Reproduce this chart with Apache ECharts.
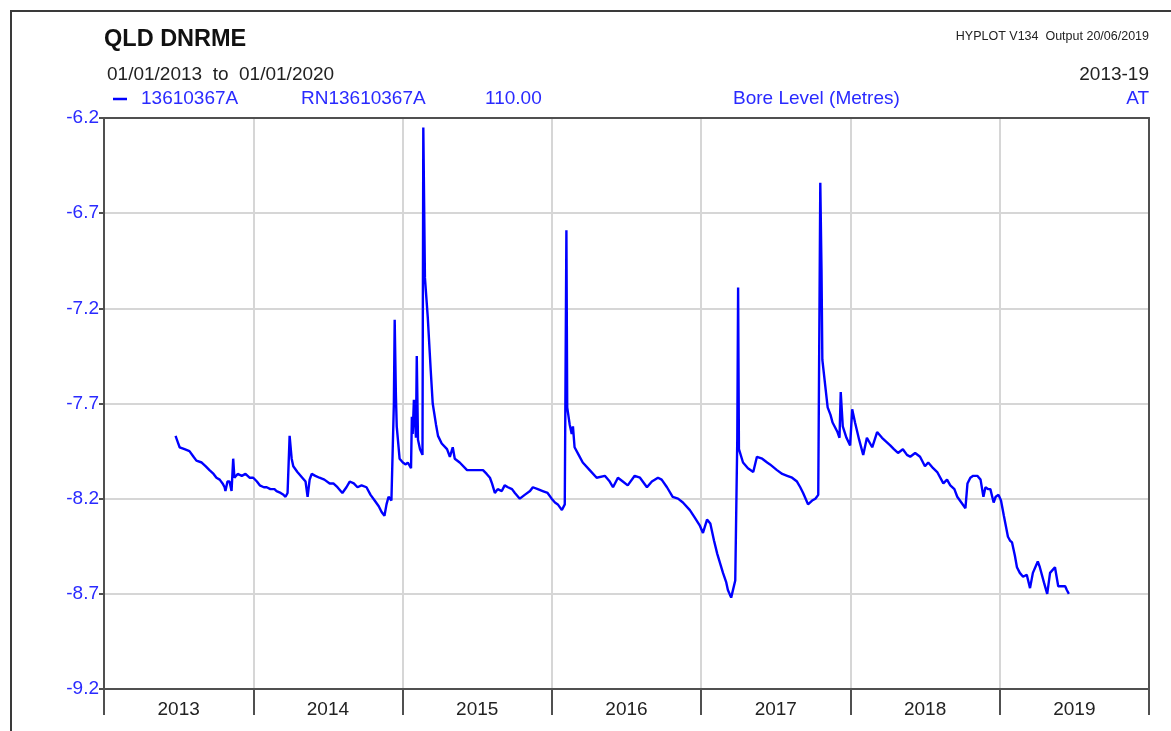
<!DOCTYPE html>
<html>
<head>
<meta charset="utf-8">
<title>QLD DNRME - Bore Level 13610367A</title>
<script src="https://cdn.jsdelivr.net/npm/echarts@6/dist/echarts.min.js"></script>
<style>
  html, body { margin: 0; padding: 0; background: #fff; }
  #chart { width: 1171px; height: 731px; }
</style>
</head>
<body>
<div id="chart"></div>
<script>
// Year labels shown along the bottom axis
const yearLabels = ['2013', '2014', '2015', '2016', '2017', '2018', '2019'];

// Y-axis tick values (metres)
const levelTicks = [-9.2, -8.7, -8.2, -7.7, -7.2, -6.7, -6.2];

// Reading dates for bore 13610367A
const readingDates = [
  '2013-06-25','2013-06-30','2013-07-05','2013-07-17','2013-07-29','2013-08-08','2013-08-15','2013-08-28',
  '2013-09-07','2013-09-16','2013-09-26','2013-10-03','2013-10-11','2013-10-18','2013-10-23','2013-10-25',
  '2013-10-30','2013-11-04','2013-11-09','2013-11-13','2013-11-16','2013-11-24','2013-12-04','2013-12-13',
  '2013-12-23',
  '2014-01-01','2014-01-10','2014-01-17','2014-01-27','2014-02-03','2014-02-12','2014-02-22','2014-02-27',
  '2014-03-09','2014-03-16','2014-03-21','2014-03-26','2014-03-31','2014-04-05','2014-04-09','2014-04-19',
  '2014-05-01','2014-05-09','2014-05-14','2014-05-19','2014-05-24','2014-06-02','2014-06-12','2014-06-24',
  '2014-07-07','2014-07-16','2014-07-26','2014-08-07','2014-08-17','2014-08-25','2014-09-04','2014-09-13',
  '2014-09-23','2014-10-05','2014-10-15','2014-10-25','2014-11-04','2014-11-11','2014-11-18','2014-11-23',
  '2014-11-28','2014-12-05','2014-12-09','2014-12-11','2014-12-13','2014-12-16','2014-12-18','2014-12-25',
  '2015-01-02','2015-01-09','2015-01-14','2015-01-22','2015-01-24','2015-01-26','2015-01-29','2015-02-03',
  '2015-02-05','2015-02-08','2015-02-13','2015-02-19','2015-02-21','2015-02-25','2015-03-04','2015-03-11',
  '2015-03-16','2015-03-24','2015-03-29','2015-04-07','2015-04-20','2015-04-27','2015-05-04','2015-05-09',
  '2015-05-21','2015-06-08','2015-06-22','2015-07-04','2015-07-17','2015-07-26','2015-08-03','2015-08-08',
  '2015-08-15','2015-08-22','2015-09-01','2015-09-08','2015-09-16','2015-09-26','2015-10-03','2015-10-15',
  '2015-10-27','2015-11-09','2015-11-16','2015-11-28','2015-12-10','2015-12-22',
  '2016-01-01','2016-01-09','2016-01-16','2016-01-26','2016-02-02','2016-02-06','2016-02-08','2016-02-14',
  '2016-02-19','2016-02-22','2016-02-26','2016-03-07','2016-03-17','2016-04-03','2016-04-20','2016-05-10',
  '2016-05-22','2016-05-30','2016-06-11','2016-06-23','2016-07-05','2016-07-22','2016-08-04','2016-08-21',
  '2016-09-02','2016-09-17','2016-09-26','2016-10-09','2016-10-23','2016-11-05','2016-11-17','2016-12-04',
  '2016-12-16','2016-12-28',
  '2017-01-05','2017-01-15','2017-01-23','2017-02-01','2017-02-09','2017-02-16','2017-02-23','2017-03-03',
  '2017-03-07','2017-03-15','2017-03-17','2017-03-25','2017-03-30','2017-04-01','2017-04-03','2017-04-13',
  '2017-04-25','2017-05-08','2017-05-17','2017-05-30','2017-06-11','2017-06-18','2017-07-05','2017-07-18',
  '2017-07-30','2017-08-11','2017-08-23','2017-08-31','2017-09-07','2017-09-15','2017-09-19','2017-09-29',
  '2017-10-07','2017-10-14','2017-10-18','2017-10-19','2017-10-22','2017-10-24','2017-11-06','2017-11-13',
  '2017-11-18','2017-11-30','2017-12-05','2017-12-08','2017-12-13','2017-12-22','2017-12-31',
  '2018-01-05','2018-01-12','2018-01-22','2018-02-01','2018-02-10','2018-02-23','2018-03-07','2018-03-09',
  '2018-03-19','2018-03-29','2018-04-08','2018-04-17','2018-04-27','2018-05-09','2018-05-19','2018-05-27',
  '2018-06-08','2018-06-20','2018-07-02','2018-07-10','2018-07-22','2018-08-01','2018-08-16','2018-08-25',
  '2018-09-02','2018-09-12','2018-09-19','2018-09-29','2018-10-09','2018-10-14','2018-10-21','2018-10-28',
  '2018-11-07','2018-11-15','2018-11-22','2018-11-27','2018-12-04','2018-12-09','2018-12-17','2018-12-22',
  '2018-12-29',
  '2019-01-04','2019-01-11','2019-01-21','2019-01-26','2019-01-31','2019-02-07','2019-02-12','2019-02-19',
  '2019-02-27','2019-03-08','2019-03-16','2019-03-23','2019-03-31','2019-04-04','2019-04-09','2019-04-19',
  '2019-04-27','2019-05-04','2019-05-16','2019-05-24','2019-06-02','2019-06-10','2019-06-14','2019-06-19'
];

// Bore level (metres) at each reading date
const boreLevels = [
  -7.87,-7.90,-7.93,-7.94,-7.95,-7.98,-8.00,-8.01,
  -8.03,-8.05,-8.07,-8.09,-8.10,-8.12,-8.14,-8.16,
  -8.11,-8.11,-8.16,-7.99,-8.09,-8.07,-8.08,-8.07,
  -8.09,
  -8.09,-8.11,-8.13,-8.14,-8.14,-8.15,-8.15,-8.16,
  -8.17,-8.18,-8.19,-8.17,-7.87,-7.99,-8.03,-8.06,
  -8.09,-8.11,-8.19,-8.10,-8.07,-8.08,-8.09,-8.10,
  -8.12,-8.12,-8.14,-8.17,-8.14,-8.11,-8.12,-8.14,
  -8.13,-8.14,-8.18,-8.21,-8.24,-8.27,-8.29,-8.23,
  -8.19,-8.21,-8.20,-7.70,-7.26,-7.66,-7.82,-7.99,
  -8.01,-8.02,-8.01,-8.04,-7.77,-7.86,-7.68,-7.88,
  -7.45,-7.89,-7.94,-7.97,-6.25,-7.04,-7.25,-7.52,
  -7.70,-7.81,-7.87,-7.91,-7.94,-7.98,-7.93,-7.99,
  -8.01,-8.05,-8.05,-8.05,-8.05,-8.07,-8.09,-8.12,
  -8.17,-8.15,-8.16,-8.13,-8.14,-8.15,-8.17,-8.20,
  -8.18,-8.16,-8.14,-8.15,-8.16,-8.17,
  -8.20,-8.22,-8.23,-8.26,-8.23,-6.79,-7.72,-7.81,
  -7.86,-7.82,-7.93,-7.97,-8.01,-8.05,-8.09,-8.08,
  -8.11,-8.14,-8.09,-8.11,-8.13,-8.08,-8.09,-8.14,
  -8.11,-8.09,-8.10,-8.14,-8.19,-8.20,-8.22,-8.26,
  -8.30,-8.34,
  -8.38,-8.31,-8.33,-8.42,-8.49,-8.54,-8.59,-8.64,
  -8.68,-8.72,-8.73,-8.63,-7.88,-7.09,-7.94,-8.01,
  -8.04,-8.06,-7.98,-7.99,-8.01,-8.02,-8.05,-8.07,
  -8.08,-8.09,-8.11,-8.14,-8.17,-8.21,-8.23,-8.21,
  -8.20,-8.18,-8.19,-6.54,-7.00,-7.47,-7.72,-7.76,
  -7.80,-7.85,-7.88,-7.64,-7.82,-7.88,-7.92,
  -7.73,-7.80,-7.89,-7.97,-7.88,-7.93,-7.85,-7.84,
  -7.88,-7.90,-7.92,-7.94,-7.96,-7.94,-7.97,-7.98,
  -7.96,-7.98,-8.03,-8.01,-8.04,-8.06,-8.12,-8.10,
  -8.13,-8.15,-8.19,-8.22,-8.25,-8.12,-8.09,-8.08,
  -8.08,-8.10,-8.19,-8.14,-8.15,-8.15,-8.22,-8.19,
  -8.18,
  -8.21,-8.29,-8.40,-8.42,-8.43,-8.50,-8.56,-8.59,
  -8.61,-8.60,-8.67,-8.59,-8.55,-8.53,-8.56,-8.64,
  -8.70,-8.59,-8.56,-8.66,-8.66,-8.66,-8.68,-8.70
];

const seriesData = readingDates.map((d, i) => [d, boreLevels[i]]);

const FONT = '"Liberation Sans", Arial, sans-serif';
const BLUE_TEXT = '#2a2aff';
const DARK = '#222';
const AXIS = '#505050';

const chart = echarts.init(document.getElementById('chart'), null, { renderer: 'canvas' });

chart.setOption({
  animation: false,
  backgroundColor: '#fff',
  grid: { left: 104, right: 22, top: 118, bottom: 42 },
  xAxis: [
    {
      // time scale carrying the readings
      type: 'time',
      min: '2013-01-01',
      max: '2020-01-01',
      show: false
    },
    {
      // year bands: labels centred, ticks and grid lines on year boundaries
      type: 'category',
      data: yearLabels,
      boundaryGap: true,
      position: 'bottom',
      axisLine: { show: true, lineStyle: { color: AXIS, width: 2 } },
      axisTick: { show: true, length: 26, interval: 0, lineStyle: { color: AXIS, width: 2 } },
      axisLabel: { show: true, interval: 0, margin: 11, fontSize: 19, fontFamily: FONT, color: DARK },
      splitLine: { show: true, interval: 0, lineStyle: { color: '#d6d6d6', width: 2 } }
    },
    {
      // plot frame along the top edge
      type: 'category',
      data: yearLabels,
      position: 'top',
      axisLine: { show: true, lineStyle: { color: AXIS, width: 2 } },
      axisTick: { show: false },
      axisLabel: { show: false },
      splitLine: { show: false }
    }
  ],
  yAxis: [
    {
      type: 'value',
      min: levelTicks[0],
      max: levelTicks[levelTicks.length - 1],
      interval: 0.5,
      axisLine: { show: true, lineStyle: { color: AXIS, width: 2 } },
      axisTick: { show: true, length: 5, lineStyle: { color: AXIS, width: 2 } },
      axisLabel: {
        margin: 5, fontSize: 19, fontFamily: FONT, color: BLUE_TEXT,
        formatter: v => Number(v).toFixed(1)
      },
      splitLine: { show: true, lineStyle: { color: '#d6d6d6', width: 2 } }
    },
    {
      // plot frame along the right edge
      type: 'value',
      position: 'right',
      min: levelTicks[0],
      max: levelTicks[levelTicks.length - 1],
      axisLine: { show: true, lineStyle: { color: AXIS, width: 2 } },
      axisTick: { show: false },
      axisLabel: { show: false },
      splitLine: { show: false }
    }
  ],
  series: [{
    name: '13610367A',
    type: 'line',
    xAxisIndex: 0,
    yAxisIndex: 0,
    data: seriesData,
    showSymbol: false,
    symbol: 'none',
    lineStyle: { color: '#0000ff', width: 2.4 },
    z: 5
  }],
  graphic: [
    // page frame
    { type: 'polyline', shape: { points: [[11, 731], [11, 11], [1171, 11]] },
      style: { stroke: '#3a3a3a', lineWidth: 2, fill: null } },
    { type: 'text', left: 104, top: 28,
      style: { text: 'QLD DNRME', font: 'bold 23.5px ' + FONT, fill: '#111' } },
    { type: 'text', left: 107, top: 65,
      style: { text: '01/01/2013  to  01/01/2020', font: '19px ' + FONT, fill: DARK } },
    { type: 'text', right: 22, top: 30,
      style: { text: 'HYPLOT V134  Output 20/06/2019', font: '12.5px ' + FONT, fill: DARK } },
    { type: 'text', right: 22, top: 65,
      style: { text: '2013-19', font: '19px ' + FONT, fill: DARK } },
    // series key row
    { type: 'line', shape: { x1: 113, y1: 99, x2: 127, y2: 99 },
      style: { stroke: '#0000ff', lineWidth: 2.5 } },
    { type: 'text', left: 141, top: 89,
      style: { text: '13610367A', font: '19px ' + FONT, fill: BLUE_TEXT } },
    { type: 'text', left: 301, top: 89,
      style: { text: 'RN13610367A', font: '19px ' + FONT, fill: BLUE_TEXT } },
    { type: 'text', left: 485, top: 89,
      style: { text: '110.00', font: '19px ' + FONT, fill: BLUE_TEXT } },
    { type: 'text', left: 733, top: 89,
      style: { text: 'Bore Level (Metres)', font: '19px ' + FONT, fill: BLUE_TEXT } },
    { type: 'text', right: 22, top: 89,
      style: { text: 'AT', font: '19px ' + FONT, fill: BLUE_TEXT } }
  ]
});
</script>
</body>
</html>
